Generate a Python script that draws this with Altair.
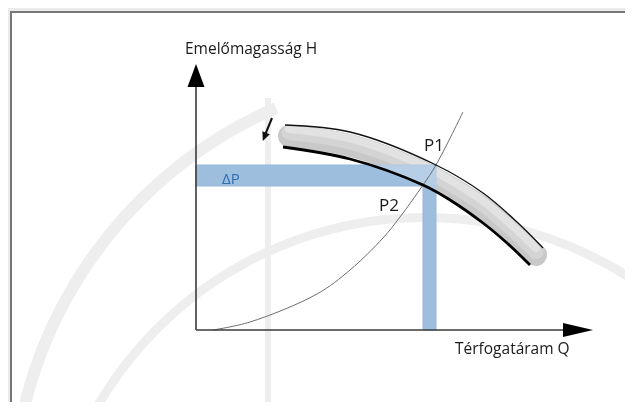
import math
import altair as alt
import pandas as pd

# ---- plot frame (data units: Q right, H up; origin at the axis corner) ----
W, H = 615, 391
X_DOMAIN = [-186, 429]
Y_DOMAIN = [-72, 319]

# system curve (thin grey)
sys_q = [17, 54, 121, 154, 187, 204, 227, 240, 267]
sys_h = [0, 8, 36, 60, 92, 113, 145, 165, 218]

# pump curve through P1 (upper, thin)
p1_q = [89, 154, 240, 287, 321, 347]
p1_h = [205, 198, 165, 137, 108, 82]

# pump curve through P2 (lower, thick)
p2_q = [87, 154, 227, 254, 287, 311, 334]
p2_h = [183, 171, 145, 130, 107, 87, 65]

# grey band between the two pump curves (centre line)
band_q = [93, 154, 227, 254, 287, 311, 340]
band_h = [194, 184.5, 157.5, 143, 122, 102, 75]

# blue bands: delta P (horizontal) and flow (vertical)
rect_q1 = [0, 227]
rect_q2 = [240, 240]
rect_h1 = [144, 0]
rect_h2 = [165, 144]

# axes (line ends) and arrow heads
axis_q1 = [0, 0]
axis_h1 = [0, 0]
axis_q2 = [0, 367]
axis_h2 = [243, 0]
yhead_q, yhead_h = [0], [243]
xhead_q, xhead_h = [367], [0]

# small pointer arrow near the start of the band
ptr_q1, ptr_h1, ptr_q2, ptr_h2 = [76], [212], [69], [195]
ptr_head_q, ptr_head_h = [68.6], [193.5]

# faint background emblem (watermark): ring centres and a vertical stroke
wm1_q, wm1_h = [229], [-266]
wm2_q, wm2_h = [254], [-180]
wm_line_q1, wm_line_h1, wm_line_h2 = [72], [232], [-72]

# labels
lab_text = ["Emelőmagasság H", "Térfogatáram Q"]
lab_q = [-11, 259]
lab_h = [276, -24]
pt_text = ["P1", "P2"]
pt_q = [228, 183]
pt_h = [179, 119]
dp_text, dp_q, dp_h = ["ΔP"], [26], [146]

xs = alt.Scale(domain=X_DOMAIN, nice=False, zero=False)
ys = alt.Scale(domain=Y_DOMAIN, nice=False, zero=False)


def X(f="q"):
    return alt.X(f"{f}:Q", scale=xs, axis=None)


def Y(f="h"):
    return alt.Y(f"{f}:Q", scale=ys, axis=None)


sys_df = pd.DataFrame({"q": sys_q, "h": sys_h})
p1_df = pd.DataFrame({"q": p1_q, "h": p1_h})
p2_df = pd.DataFrame({"q": p2_q, "h": p2_h})
band_df = pd.DataFrame({"q": band_q, "h": band_h})
rect_df = pd.DataFrame({"q": rect_q1, "q2": rect_q2, "h": rect_h1, "h2": rect_h2})
axis_df = pd.DataFrame({"q": axis_q1, "h": axis_h1, "q2": axis_q2, "h2": axis_h2})
ptr_df = pd.DataFrame({"q": ptr_q1, "h": ptr_h1, "q2": ptr_q2, "h2": ptr_h2})
ptr_head_df = pd.DataFrame({"q": ptr_head_q, "h": ptr_head_h})
lab_df = pd.DataFrame({"t": lab_text, "q": lab_q, "h": lab_h})
pt_df = pd.DataFrame({"t": pt_text, "q": pt_q, "h": pt_h})
dp_df = pd.DataFrame({"t": dp_text, "q": dp_q, "h": dp_h})
yhead_df = pd.DataFrame({"q": yhead_q, "h": yhead_h})
xhead_df = pd.DataFrame({"q": xhead_q, "h": xhead_h})
wm1_df = pd.DataFrame({"q": wm1_q, "h": wm1_h})
wm2_df = pd.DataFrame({"q": wm2_q, "h": wm2_h})
wm_line_df = pd.DataFrame({"q": wm_line_q1, "h": wm_line_h1, "h2": wm_line_h2})
one = pd.DataFrame({"a": [0]})

WM = "#eeeeee"
wm_ring1 = alt.Chart(wm1_df).mark_arc(
    radius=374, radius2=383, theta=1.5 * math.pi, theta2=2.5 * math.pi, color=WM
).encode(x=X(), y=Y())
wm_ring2 = alt.Chart(wm2_df).mark_arc(
    radius=432, radius2=444, theta=1.5 * math.pi, theta2=1.87 * math.pi, color=WM
).encode(x=X(), y=Y())
wm_line = alt.Chart(wm_line_df).mark_rule(color=WM, strokeWidth=6).encode(
    x=X(), y=Y(), y2="h2"
)


def band_layer(color, width, offset=0, **kw):
    return alt.Chart(band_df).mark_line(
        color=color, strokeWidth=width, strokeCap="round", interpolate="catmull-rom",
        yOffset=offset, **kw
    ).encode(x=X(), y=Y())


band_base = band_layer("#b5b5b5", 22)
band_mid = band_layer("#c6c6c6", 15, -3.5)
band_top = band_layer("#d8d8d8", 8, -7)

rects = alt.Chart(rect_df).mark_rect(
    color="#9dbfdd", stroke="#93b8db", strokeWidth=1
).encode(x=X(), x2="q2", y=Y(), y2="h2")

band_screen = band_layer("#404040", 22, 0, blend="screen")

sys_line = alt.Chart(sys_df).mark_line(
    color="#6e6e6e", strokeWidth=1, interpolate="catmull-rom"
).encode(x=X(), y=Y())
p1_line = alt.Chart(p1_df).mark_line(
    color="#111111", strokeWidth=1.3, interpolate="catmull-rom"
).encode(x=X(), y=Y())
p2_line = alt.Chart(p2_df).mark_line(
    color="#000000", strokeWidth=2.8, interpolate="catmull-rom"
).encode(x=X(), y=Y())

axes = alt.Chart(axis_df).mark_rule(color="#3a3a3a", strokeWidth=1.6).encode(
    x=X(), y=Y(), x2="q2", y2="h2"
)
yhead = alt.Chart(yhead_df).mark_point(
    shape="M0,-1.533L0.567,0L-0.567,0Z", size=900, filled=True, color="#000000", opacity=1
).encode(x=X(), y=Y())
xhead = alt.Chart(xhead_df).mark_point(
    shape="M2,0L0,-0.467L0,0.467Z", size=900, filled=True, color="#000000", opacity=1
).encode(x=X(), y=Y())

ptr = alt.Chart(ptr_df).mark_rule(color="#111111", strokeWidth=2).encode(
    x=X(), y=Y(), x2="q2", y2="h2"
)
ptr_head = alt.Chart(ptr_head_df).mark_point(
    shape="M0,0.6L-0.5,-0.5L0.5,-0.5Z", size=256, filled=True, color="#111111",
    opacity=1, angle=22
).encode(x=X(), y=Y())

labels = alt.Chart(lab_df).mark_text(
    align="left", baseline="alphabetic", font="Open Sans", fontSize=15.5, color="#1a1a1a"
).encode(x=X(), y=Y(), text="t:N")
pts = alt.Chart(pt_df).mark_text(
    align="left", baseline="alphabetic", font="Open Sans", fontSize=17, color="#1a1a1a"
).encode(x=X(), y=Y(), text="t:N")
dp = alt.Chart(dp_df).mark_text(
    align="left", baseline="alphabetic", font="Open Sans", fontSize=15, color="#2f6db3"
).encode(x=X(), y=Y(), text="t:N")

border_left = alt.Chart(one).mark_rule(color="#777777", strokeWidth=2).encode(
    x=alt.value(1), y=alt.value(0), y2=alt.value(H)
)
border_top = alt.Chart(one).mark_rule(color="#777777", strokeWidth=2).encode(
    y=alt.value(1), x=alt.value(0), x2=alt.value(W)
)

chart = alt.layer(
    wm_ring1, wm_ring2, wm_line,
    band_base, band_mid, band_top, rects, band_screen, sys_line, p1_line, p2_line,
    axes, yhead, xhead, ptr, ptr_head, labels, pts, dp, border_left, border_top
).properties(
    width=W, height=H, autosize="none",
    padding={"left": 2, "top": 3, "right": 0, "bottom": 0},
    background="#ebebeb",
).configure_view(fill="white", strokeOpacity=0)

chart.save("out.html", embed_options={"renderer": "svg", "actions": False})
